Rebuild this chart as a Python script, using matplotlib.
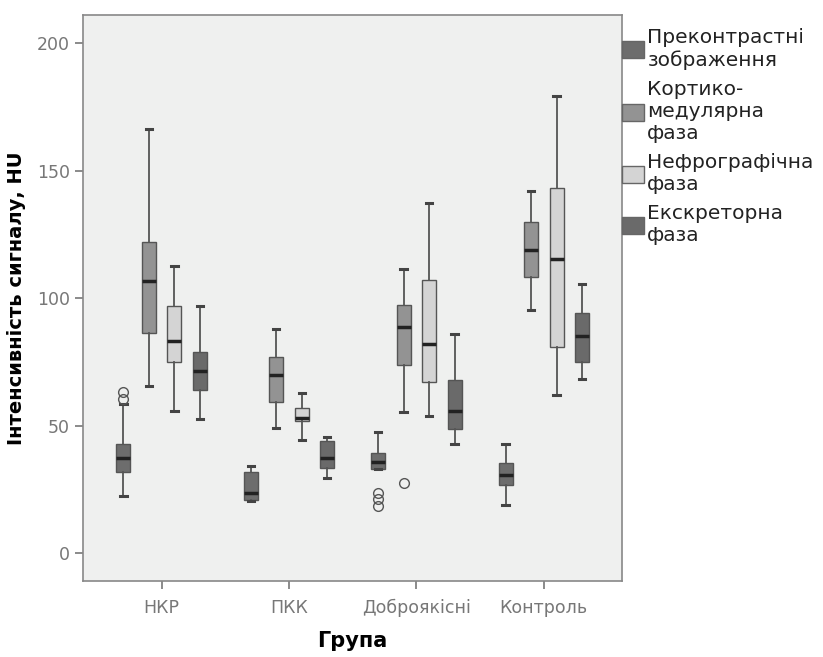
import matplotlib.pyplot as plt
from matplotlib.patches import Patch

plt.rcParams['font.family'] = ['DejaVu Sans']

groups = ['НКР', 'ПКК', 'Доброякісні', 'Контроль']
phases = ['Преконтрастні\nзображення', 'Кортико-\nмедулярна\nфаза',
          'Нефрографічна\nфаза', 'Екскреторна\nфаза']
colors = ['#6d6d6d', '#939393', '#d4d4d4', '#6a6a6a']

# per phase, per group: (low whisker, Q1, median, Q3, high whisker)
pre = [(22.3, 31.9, 37.2, 42.8, 58.3), (20.4, 20.8, 23.6, 31.9, 34.3),
       (32.9, 32.9, 35.7, 39.1, 47.4), (18.7, 26.7, 30.7, 35.4, 42.8)]
cortico = [(65.7, 86.2, 106.7, 122.0, 166.2), (49.0, 59.4, 69.9, 76.8, 88.0),
           (55.4, 73.9, 88.7, 97.4, 111.6), (95.5, 108.3, 118.8, 129.7, 142.2)]
nephro = [(55.8, 74.9, 83.3, 97.0, 112.6), (44.2, 51.7, 52.9, 56.8, 62.9),
          (53.6, 67.2, 82.2, 107.1, 137.2), (61.9, 80.7, 115.5, 143.3, 179.3)]
excret = [(52.5, 63.8, 71.3, 79.0, 97.1), (29.3, 33.3, 37.2, 43.8, 45.5),
          (42.8, 48.8, 55.8, 67.7, 86.1), (68.4, 74.9, 85.1, 94.2, 105.7)]
outliers = {
    (0, 0): [60.4, 63.3],
    (0, 2): [18.4, 21.0, 23.5],
    (1, 2): [27.4],
}

series = [pre, cortico, nephro, excret]
offsets = [-0.3, -0.1, 0.1, 0.3]

fig = plt.figure(figsize=(8.23, 6.57), dpi=100)
ax = fig.add_axes([0.1013, 0.1157, 0.6545, 0.861])
ax.set_facecolor('#eff0ef')

for p, data in enumerate(series):
    stats = []
    for g, (lo, q1, med, q3, hi) in enumerate(data):
        stats.append(dict(whislo=lo, q1=q1, med=med, q3=q3, whishi=hi,
                          fliers=outliers.get((p, g), [])))
    pos = [g + offsets[p] for g in range(len(groups))]
    ax.bxp(stats, positions=pos, widths=0.11, capwidths=0.05,
           patch_artist=True, manage_ticks=False,
           boxprops=dict(facecolor=colors[p], edgecolor='#555555', linewidth=1),
           medianprops=dict(color='#222222', linewidth=2.5),
           whiskerprops=dict(color='#555555', linewidth=1.3),
           capprops=dict(color='#444444', linewidth=2.2),
           flierprops=dict(marker='o', markerfacecolor='none',
                           markeredgecolor='#555555', markersize=7,
                           markeredgewidth=1))

ax.set_xlim(-0.614, 3.614)
ax.set_ylim(-11, 211)
ax.set_xticks(range(len(groups)))
ax.set_xticklabels(groups)
ax.set_yticks([0, 50, 100, 150, 200])
ax.tick_params(colors='#777777', labelsize=12.5, length=6, width=1.2)
ax.tick_params(axis='x', pad=7)
for s in ax.spines.values():
    s.set_color('#888888')
    s.set_linewidth(1.2)

ax.set_xlabel('Група', fontsize=15, fontweight='bold', labelpad=10)
ax.set_ylabel('Інтенсивність сигналу, НU', fontsize=14, fontweight='bold',
              labelpad=8)

handles = [Patch(facecolor=c, edgecolor='#666666') for c in colors]
leg = fig.legend(handles, phases, loc='upper left', bbox_to_anchor=(0.756, 0.957),
                 frameon=False, fontsize=14.5, handlelength=1.1, handleheight=0.95,
                 handletextpad=0.15, labelspacing=0.5, borderpad=0,
                 borderaxespad=0)
for t in leg.get_texts():
    t.set_linespacing(1.2)
    t.set_color('#222222')

plt.savefig('out.png', dpi=100)
